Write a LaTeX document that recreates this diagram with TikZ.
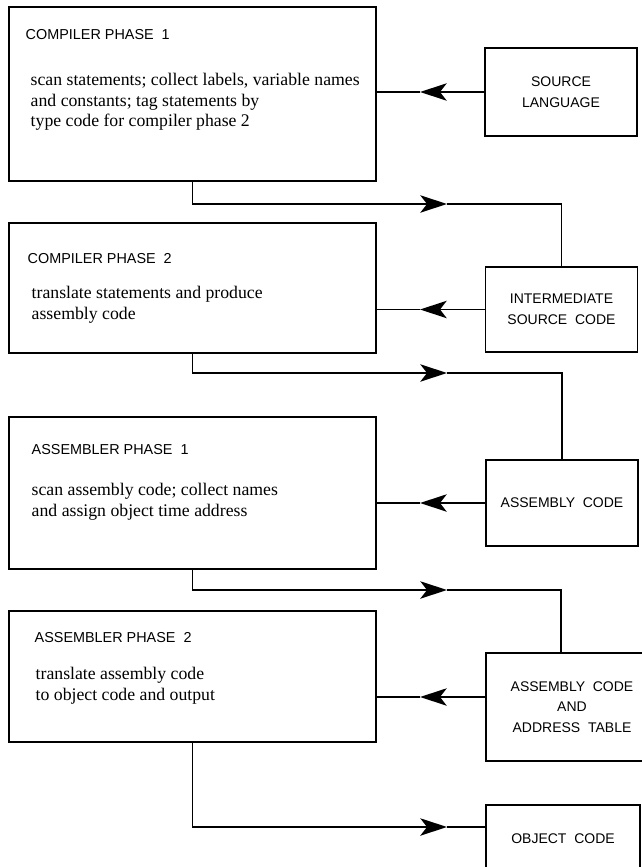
\documentclass[tikz,border=0pt]{standalone}
\usepackage{fontspec}
\setmainfont{Liberation Serif}
\setsansfont{Liberation Sans}
\usetikzlibrary{arrows.meta, positioning}

\begin{document}
\begin{tikzpicture}[
    x=0.75pt, y=-0.75pt,
    box/.style={rectangle, draw, line width=1.4pt, minimum width=114pt, align=center,
      font=\sffamily\fontsize{10.5}{15.5}\selectfont},
    phase/.style={rectangle, draw, line width=1.4pt, minimum width=275.3pt},
    title/.style={anchor=west, font=\sffamily\fontsize{10.8}{12}\selectfont},
    body/.style={anchor=west, align=left, font=\fontsize{13.3}{15.5}\selectfont},
    arrow/.style={-{Stealth[length=20pt, width=13pt, inset=5pt]}, line width=1.4pt},
    line/.style={line width=1.4pt}
  ]
    \useasboundingbox (0,0) rectangle (642,867);

    % phase boxes on the left
    \node[phase, minimum height=130.5pt] (cp1) at (192.5,94) {};
    \node[phase, minimum height=97.5pt] (cp2) at (192.5,288) {};
    \node[phase, minimum height=114pt] (ap1) at (192.5,493) {};
    \node[phase, minimum height=98.3pt] (ap2) at (192.5,676.5) {};

    \node[title] (cp1t) at (21,35) {COMPILER\ PHASE\ \ 1};
    \node[body] (cp1b) at (26,102) {scan statements; collect labels, variable names\\and constants; tag statements by\\type code for compiler phase 2};
    \node[title] (cp2t) at (23,259) {COMPILER\ PHASE\ \ 2};
    \node[body] (cp2b) at (27,305) {translate statements and produce\\assembly code};
    \node[title] (ap1t) at (27,450) {ASSEMBLER\ PHASE\ \ 1};
    \node[body] (ap1b) at (27,502) {scan assembly code; collect names\\and assign object time address};
    \node[title] (ap2t) at (30,638) {ASSEMBLER\ PHASE\ \ 2};
    \node[body] (ap2b) at (31,685.5) {translate assembly code\\to object code and output};

    % data boxes on the right
    \node[box, minimum height=66pt] (src) at (561,92) {SOURCE\\LANGUAGE};
    \node[box, minimum height=63.8pt] (inter) at (561.5,309.5) {INTERMEDIATE\\SOURCE\ \ CODE};
    \node[box, minimum height=64.5pt] (asm) at (562,503) {ASSEMBLY\ \ CODE};
    \node[box, minimum width=129pt, minimum height=81pt] (acat) at (572,707) {ASSEMBLY\ \ CODE\\AND\\ADDRESS\ \ TABLE};
    \node[box, minimum width=115.5pt, minimum height=50.3pt] (obj) at (563,838.5) {OBJECT\ \ CODE};

    % arrow tips
    \coordinate (l1) at (420,92);
    \coordinate (l2) at (420,309.5);
    \coordinate (l3) at (420,503);
    \coordinate (l4) at (420,697);
    \coordinate (r1) at (447,204);
    \coordinate (r2) at (447,373);
    \coordinate (r3) at (447,590);
    \coordinate (r4) at (447,827);

    \draw[arrow] (src) -- (l1);
    \draw[line] (l1) -- (cp1.east |- l1);
    \draw[arrow] (inter) -- (l2);
    \draw[line] (l2) -- (cp2.east |- l2);
    \draw[arrow] (asm) -- (l3);
    \draw[line] (l3) -- (ap1.east |- l3);
    \draw[arrow] (acat.west |- l4) -- (l4);
    \draw[line] (l4) -- (ap2.east |- l4);

    \draw[arrow] (cp1.south) |- (r1);
    \draw[line] (r1) -| (inter.north);
    \draw[arrow] (cp2.south) |- (r2);
    \draw[line] (r2) -| (asm.north);
    \draw[arrow] (ap1.south) |- (r3);
    \draw[line] (r3) -| ([xshift=-8.25pt]acat.north);
    \draw[arrow] (ap2.south) |- (r4);
    \draw[line] (r4) -- (obj.west |- r4);
  \end{tikzpicture}
\end{document}
